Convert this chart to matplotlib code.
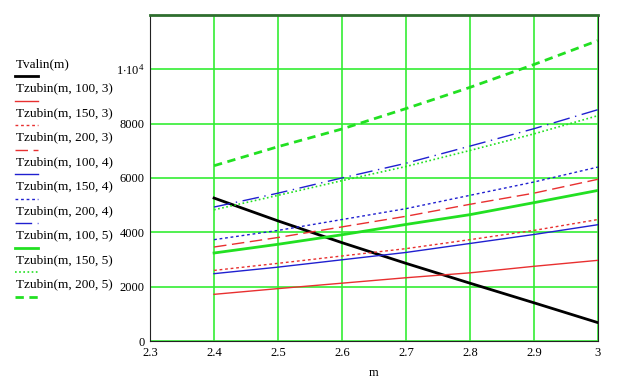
import matplotlib.pyplot as plt
from matplotlib.lines import Line2D

plt.rcParams['font.family'] = 'Liberation Serif'
plt.rcParams['mathtext.fontset'] = 'custom'
plt.rcParams['mathtext.rm'] = 'Liberation Serif'

m = [2.4, 2.5, 2.6, 2.7, 2.8, 2.9, 3.0]

tvalin = [5260, 4420, 3620, 2860, 2130, 1410, 680]
tz_100_3 = [1720, 1930, 2130, 2330, 2510, 2750, 2970]
tz_150_3 = [2600, 2860, 3130, 3400, 3730, 4070, 4470]
tz_200_3 = [3460, 3810, 4200, 4590, 5030, 5440, 5950]
tz_100_4 = [2480, 2720, 2990, 3260, 3590, 3920, 4280]
tz_150_4 = [3730, 4070, 4470, 4870, 5360, 5850, 6400]
tz_200_4 = [4930, 5440, 6000, 6540, 7170, 7810, 8510]
tz_100_5 = [3240, 3560, 3910, 4290, 4650, 5090, 5540]
tz_150_5 = [4830, 5360, 5900, 6420, 7010, 7620, 8290]
tz_200_5 = [6450, 7150, 7800, 8550, 9330, 10170, 11050]

labels = ['Tvalin(m)', 'Tzubin(m, 100, 3)', 'Tzubin(m, 150, 3)', 'Tzubin(m, 200, 3)',
          'Tzubin(m, 100, 4)', 'Tzubin(m, 150, 4)', 'Tzubin(m, 200, 4)',
          'Tzubin(m, 100, 5)', 'Tzubin(m, 150, 5)', 'Tzubin(m, 200, 5)']
series = [tvalin, tz_100_3, tz_150_3, tz_200_3, tz_100_4, tz_150_4, tz_200_4,
          tz_100_5, tz_150_5, tz_200_5]

red = '#e83030'
blue = '#2020d0'
green = '#22e022'
styles = [
    dict(color='black', lw=2.0, ls='-'),
    dict(color=red, lw=1.0, ls='-'),
    dict(color=red, lw=1.0, ls=(0, (2, 2))),
    dict(color=red, lw=1.0, ls=(0, (9, 4))),
    dict(color=blue, lw=1.0, ls='-'),
    dict(color=blue, lw=1.0, ls=(0, (2, 2))),
    dict(color=blue, lw=1.0, ls=(0, (12, 4, 1, 4))),
    dict(color=green, lw=2.0, ls='-'),
    dict(color=green, lw=1.2, ls=(0, (1, 1.5))),
    dict(color=green, lw=2.0, ls=(0, (3, 2))),
]

fig = plt.figure(figsize=(6.36, 3.79), dpi=100)
ax = fig.add_axes([0.236, 0.100, 0.704, 0.861])

for y, st in zip(series, styles):
    ax.plot(m, y, **st)

ax.set_xlim(2.3, 3.0)
ax.set_ylim(0, 12000)
ax.set_xticks([2.3, 2.4, 2.5, 2.6, 2.7, 2.8, 2.9, 3.0])
ax.set_xticklabels(['2.3', '2.4', '2.5', '2.6', '2.7', '2.8', '2.9', '3'])
ax.set_yticks([0, 2000, 4000, 6000, 8000, 10000])
ax.set_yticklabels(['0', '2000', '4000', '6000', '8000', r'$\mathrm{1{\cdot}10^4}$'])
ax.tick_params(length=0, labelsize=9, pad=4)
ax.grid(True, color='#33ee33', lw=1.2)
ax.set_axisbelow(True)
for s in ['left', 'bottom', 'right']:
    ax.spines[s].set_color('#222222')
ax.spines['top'].set_color('#2e6e2e')
ax.spines['top'].set_linewidth(2)
ax.set_xlabel('m', fontsize=9, labelpad=6)

# legend on the left, drawn by hand like the original
W, H = 636, 379
for i, (lab, st) in enumerate(zip(labels, styles)):
    ty = 64 + 24.5 * i
    fig.text(16 / W, 1 - ty / H, lab, fontsize=9.5, va='center', ha='left')
    ly = 1 - (ty + 12) / H
    fig.add_artist(Line2D([15 / W, 38 / W], [ly, ly], transform=fig.transFigure, **st))

fig.savefig('out.png', dpi=100)
